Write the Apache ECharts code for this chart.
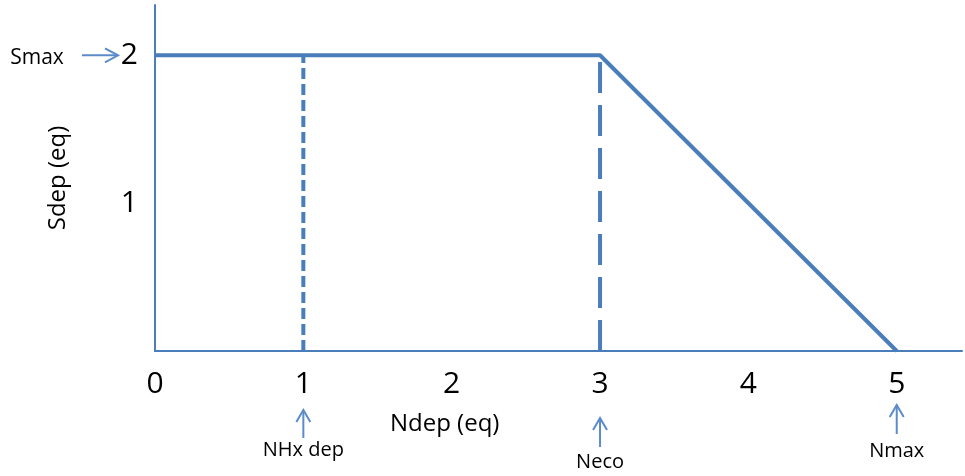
<!DOCTYPE html>
<html>
<head>
<meta charset="utf-8">
<script src="https://cdn.jsdelivr.net/npm/echarts@6/dist/echarts.min.js"></script>
<style>html,body{margin:0;padding:0;background:#fff}#c{width:965px;height:476px}</style>
</head>
<body>
<div id="c"></div>
<script>
// Data
const xTicks = [0, 1, 2, 3, 4, 5];
const yTicks = [1, 2];
const mainLine = [[0, 2], [3, 2], [5, 0]];
const nhxLine = [[1, 0], [1, 2]];
const necoLine = [[3, 0], [3, 2]];
const xMarkers = [1, 3, 5];
const xMarkerLabels = ['NHx dep', 'Neco', 'Nmax'];
const yMarkerValue = 2;
const yMarkerLabel = 'Smax';
const xName = 'Ndep (eq)';
const yName = 'Sdep (eq)';

const BLUE = '#4a7ebb';
const ARROW = '#5b8bc9';
const FONT = 'Open Sans';

const chart = echarts.init(document.getElementById('c'), null, {renderer: 'canvas'});
const option = {
  animation: false,
  backgroundColor: '#fff',
  grid: {left: 155, right: 0, top: 5, bottom: 125, containLabel: false},
  xAxis: {
    type: 'value', min: 0, max: 5.44, interval: 1,
    axisLine: {show: true, lineStyle: {color: BLUE, width: 2}},
    axisTick: {show: false},
    splitLine: {show: false},
    axisLabel: {
      color: '#000', fontFamily: FONT, fontSize: 30, margin: 18,
      formatter: v => xTicks.includes(v) ? String(v) : ''
    }
  },
  yAxis: {
    type: 'value', min: 0, max: 2.34, interval: 1,
    name: yName, nameLocation: 'middle', nameRotate: 90, nameGap: 85,
    nameTextStyle: {color: '#000', fontFamily: FONT, fontSize: 24},
    axisLine: {show: true, lineStyle: {color: BLUE, width: 2}},
    axisTick: {show: false},
    splitLine: {show: false},
    axisLabel: {
      color: '#000', fontFamily: FONT, fontSize: 30, margin: 17,
      formatter: v => yTicks.includes(v) ? String(v) : ''
    }
  },
  series: [
    {type: 'line', data: mainLine, symbol: 'none', lineStyle: {color: BLUE, width: 4}, z: 3},
    {type: 'line', data: nhxLine, symbol: 'none', lineStyle: {color: BLUE, width: 4, type: [11, 5]}, z: 2},
    {type: 'line', data: necoLine, symbol: 'none', lineStyle: {color: BLUE, width: 4, type: [31, 12]}, z: 2}
  ]
};
chart.setOption(option);

// Annotations positioned through the chart's own scales
const graphics = [];
const arrowStyle = {stroke: ARROW, lineWidth: 2, fill: null};
const arrowTips = [410, 418, 405];
const arrowLens = [28, 29, 29];
const textYs = [450, 462, 451];
xMarkers.forEach((xv, i) => {
  const px = chart.convertToPixel({gridIndex: 0}, [xv, 0])[0];
  const tip = arrowTips[i], bot = tip + arrowLens[i];
  graphics.push({type: 'polyline', shape: {points: [[px, bot], [px, tip]]}, style: arrowStyle, silent: true});
  graphics.push({type: 'polyline', shape: {points: [[px - 7, tip + 12], [px, tip], [px + 7, tip + 12]]}, style: arrowStyle, silent: true});
  graphics.push({type: 'text', x: px, y: textYs[i], style: {text: xMarkerLabels[i], fill: '#000', font: '20px "' + FONT + '"', textAlign: 'center', textVerticalAlign: 'middle'}, silent: true});
});
const py = chart.convertToPixel({gridIndex: 0}, [0, yMarkerValue])[1];
graphics.push({type: 'polyline', shape: {points: [[82, py], [118, py]]}, style: arrowStyle, silent: true});
graphics.push({type: 'polyline', shape: {points: [[105, py - 7], [118, py], [105, py + 7]]}, style: arrowStyle, silent: true});
graphics.push({type: 'text', x: 37, y: py + 3, style: {text: yMarkerLabel, fill: '#000', font: '21px "' + FONT + '"', textAlign: 'center', textVerticalAlign: 'middle'}, silent: true});
const xNamePx = chart.convertToPixel({gridIndex: 0}, [2, 0])[0];
graphics.push({type: 'text', x: xNamePx - 7, y: 424, style: {text: xName, fill: '#000', font: '24px "' + FONT + '"', textAlign: 'center', textVerticalAlign: 'middle'}, silent: true});
chart.setOption({graphic: graphics});
</script>
</body>
</html>
